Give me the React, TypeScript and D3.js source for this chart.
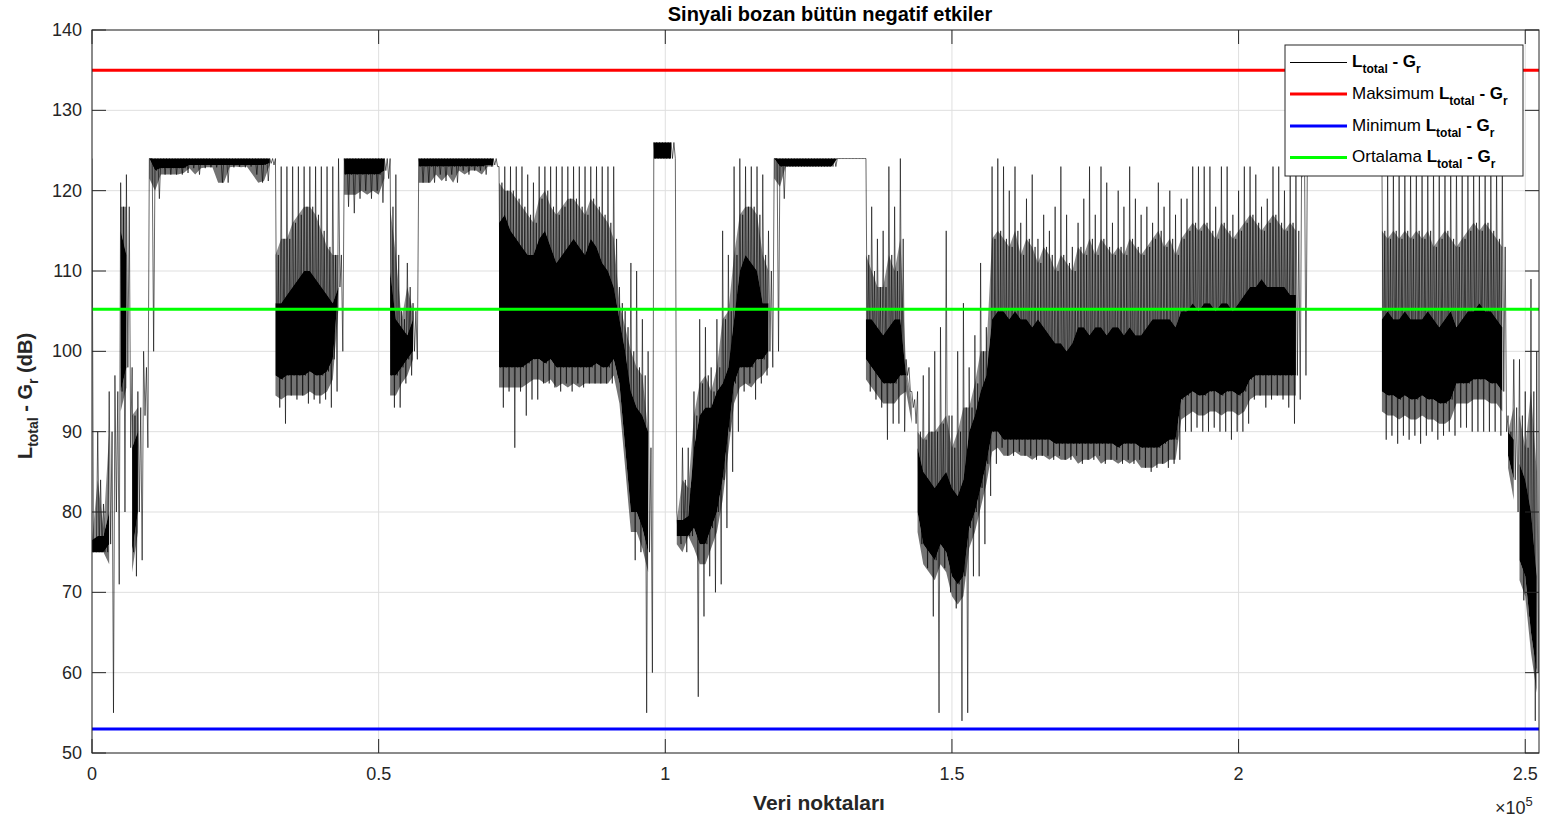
import * as d3 from "d3";

// one envelope sample every 1000 data points
const sampleStep = 1000;
const xMax = 252400;

// outer low tips of the noise
const loSpike = [
  75, 75, 75, 55, 71, 80, 88, 72, 74, 88,
  100, 119, 122, 122, 122, 122, 122.2, 122.8, 122, 122.8,
  122.9, 122.9, 121, 121, 122.9, 123, 122.9, 123, 122, 121,
  121.2, 123.2, 93, 91, 94.5, 94, 94.5, 93.5, 94, 93.5,
  94, 93, 95, 100, 118, 117.2, 119, 120, 119, 120,
  118.5, 121.5, 93, 93, 96, 97, 99, 121, 121, 121,
  122, 121.2, 122, 121, 122.5, 122, 122.5, 122.5, 122, 123,
  123, 93, 95, 88, 95, 92, 94, 94, 96, 96,
  95.5, 95, 96, 95, 96, 95.5, 96, 96, 96, 96,
  96, 97, 93, 84, 74, 75, 55, 60, 124, 124,
  124, 124, 76, 75, 77, 57, 67, 72, 70, 71,
  78, 85, 90, 95, 96, 94, 96, 97, 98, 100,
  119, 123, 123, 123, 123, 123, 123, 123, 123, 123,
  124, 124, 124, 124, 124, 95, 94, 93, 89, 91,
  91, 90, 95, 91, 76, 73, 67, 55, 73, 70,
  68, 54, 55, 72, 72, 76, 82, 86, 88, 87,
  87, 87.5, 87, 87, 86.5, 87, 87, 86.5, 87, 86.5,
  86.5, 87, 86, 86.5, 86.5, 87, 86, 86.5, 86.5, 86,
  86.5, 86, 86.5, 85.5, 85, 85.5, 86, 85.5, 86, 86.5,
  90, 90, 90.5, 90, 90, 90.5, 90, 90, 89, 90,
  90, 91, 94, 94.5, 93, 94, 94.5, 94, 93, 91,
  94, 97, 123, 123, 123, 123, 123, 123, 123, 123,
  123, 123, 123, 123, 123, 89, 89.5, 88.5, 89.5, 89,
  89.5, 88.5, 89.5, 90, 89, 89.5, 90, 89.5, 90.5, 90.5,
  90, 90, 90, 90, 90, 89.5, 90, 85.5, 80, 69,
  67, 54, 54,
];

// lower edge of the dense (solid) band
const coreLo = [
  75, 75, 75, 76, 80, 95, 98, 75, 80, 92,
  124, 122.5, 122.8, 122.8, 122.8, 122.8, 122.8, 123.2, 123.2, 123.2,
  123.2, 123.2, 123.2, 123.2, 123.2, 123.2, 123.2, 123.2, 123.2, 123.2,
  123.2, 123.4, 97, 96.5, 97, 97, 97, 97, 97.5, 97,
  97, 97.5, 99, 108, 122, 122, 122, 122, 122, 122,
  122, 122.5, 97, 97, 98, 99, 100, 123, 123, 123,
  123, 123, 123, 123, 123, 123, 123, 123, 123, 123.2,
  123.2, 98, 98, 98, 98, 98, 98.5, 99, 99, 98.5,
  99, 98, 98, 98, 98, 98, 98, 98, 98.5, 98,
  98, 99, 96, 88, 80, 80, 78, 75, 124, 124,
  124, 124, 77, 77, 77, 78, 76, 76, 78, 80,
  84, 90, 96, 98, 98, 98, 99, 99, 100, 124,
  123, 123, 123, 123, 123, 123, 123, 123, 123, 123,
  124, 124, 124, 124, 124, 99, 98, 97, 96, 96,
  96, 97, 97, 93, 80, 76, 75, 74, 76, 75,
  72, 71, 72, 78, 80, 83, 86, 90, 90, 89,
  89, 89, 89, 89, 89, 89, 89, 89, 88.5, 88.5,
  88.5, 88.5, 88.5, 88.5, 88.5, 88.5, 88.5, 88.5, 88.5, 88,
  88.5, 88.5, 88.5, 88, 88, 88, 88, 88.5, 89, 89,
  94, 94.5, 95, 94.5, 94.5, 95, 95, 94.5, 95, 95,
  94.5, 95, 96.5, 97, 97, 97, 97, 97, 97, 97,
  97, 124, 123, 123, 123, 123, 123, 123, 123, 123,
  123, 123, 123, 123, 123, 95, 94.5, 94.5, 94, 94.5,
  94, 94, 94.5, 94, 94, 93.5, 93.5, 94, 96, 96,
  96, 96.5, 96.5, 96.5, 96, 96, 95, 87, 84, 74,
  72, 65, 60,
];

// upper edge of the dense band
const coreHi = [
  76.5, 77, 77, 80, 92, 115, 112, 88, 90, 96,
  124, 124, 124, 124, 124, 124, 124, 124, 124, 124,
  124, 124, 124, 124, 124, 124, 124, 124, 124, 124,
  124, 124, 106, 106, 107, 108, 109, 110, 110, 109,
  108, 107, 106, 108, 124, 124, 124, 124, 124, 124,
  124, 124, 110, 104, 103, 102, 104, 124, 124, 124,
  124, 124, 124, 124, 124, 124, 124, 124, 124, 124,
  124, 116, 117, 115, 114, 113, 112, 112, 114, 115,
  113, 111, 112, 113, 114, 113, 112, 114, 113, 111,
  110, 108, 104, 100, 95, 93, 92, 90, 126, 126,
  126, 126, 79, 79, 79.5, 88, 92, 93, 93, 95,
  96, 98, 104, 110, 112, 111, 110, 106, 106, 124,
  124, 124, 124, 124, 124, 124, 124, 124, 124, 124,
  124, 124, 124, 124, 124, 104, 104, 103, 102, 103,
  104, 104, 97, 93, 88, 85, 84, 83, 84, 85,
  83, 82, 84, 90, 92, 95, 97, 104, 105, 105,
  104, 105, 104, 104, 103, 104, 103, 102, 101, 101,
  100, 101, 103, 103, 102, 103, 103, 102, 103, 103,
  102, 103, 102, 102, 103, 104, 104, 104, 104, 103,
  105, 105, 106, 105, 106, 106, 105, 106, 106, 105,
  106, 107, 108, 108, 109, 108, 108, 108, 108, 107,
  107, 124, 124, 124, 124, 124, 124, 124, 124, 124,
  124, 124, 124, 124, 124, 104, 105, 104, 104, 105,
  104, 104, 104, 105, 104, 103, 104, 105, 103, 104,
  105, 105, 106, 105, 105, 104, 103, 90, 89, 86,
  84, 80, 72,
];

// top of the grey haze of shorter spikes above the dense band
const midSpike = [
  76, 84, 78, 90, 95, 118, 118, 92, 93, 98,
  124, 124, 124, 124, 124, 124, 124, 124, 124, 124,
  124, 124, 124, 124, 124, 124, 124, 124, 124, 124,
  124, 124, 112, 114, 114, 116, 117, 118, 118, 117,
  115, 113, 112, 112, 124, 124, 124, 124, 124, 124,
  124, 124, 118, 112, 104, 108, 105, 124, 124, 124,
  124, 124, 124, 124, 124, 124, 124, 124, 124, 124,
  124, 121, 120, 120, 119, 118, 117, 116, 119, 120,
  118, 117, 118, 119, 119, 118, 117, 119, 118, 117,
  116, 114, 106, 103, 100, 98, 97, 88, 126, 126,
  126, 126, 79, 84, 83, 92, 96, 97, 95, 98,
  104, 105, 112, 117, 118, 118, 117, 112, 110, 124,
  124, 124, 124, 124, 124, 124, 124, 124, 124, 124,
  124, 124, 124, 124, 124, 112, 110, 108, 108, 112,
  110, 114, 98, 94, 90, 89, 90, 90, 91, 92,
  88, 90, 93, 93, 96, 100, 100, 114, 115, 114,
  113, 115, 112, 114, 113, 111, 113, 112, 110, 112,
  111, 110, 113, 112, 114, 112, 114, 113, 112, 113,
  112, 114, 113, 112, 113, 114, 115, 113, 114, 112,
  114, 115, 116, 115, 116, 115, 114, 116, 115, 114,
  115, 116, 117, 116, 115, 116, 117, 116, 115, 116,
  115, 124, 124, 124, 124, 124, 124, 124, 124, 124,
  124, 124, 124, 124, 124, 115, 114, 115, 114, 115,
  114, 115, 114, 115, 113, 114, 115, 114, 113, 114,
  115, 116, 115, 116, 115, 114, 113, 90, 93, 92,
  88, 95, 85,
];

// outer high tips of the noise
const hiSpike = [
  124, 90, 81, 95, 97, 121, 122, 98, 95, 100,
  124, 124, 124, 124, 124, 124, 124, 124, 124, 124,
  124, 124, 124, 124, 124, 124, 124, 124, 124, 124,
  124, 124, 124, 123, 123, 123, 123, 123, 123, 123,
  123, 123, 123, 124, 124, 124, 124, 124, 124, 124,
  124, 124, 124, 122, 105, 111, 106, 124, 124, 124,
  124, 124, 124, 124, 124, 124, 124, 124, 124, 124,
  124, 123, 123, 123, 123, 123, 122, 121, 123, 123,
  123, 123, 123, 123, 123, 123, 123, 123, 123, 123,
  123, 123, 108, 105, 111, 110, 104, 100, 126, 126,
  126, 126, 80, 88, 88, 95, 104, 103, 98, 104,
  115, 112, 123, 124, 123, 123, 123, 122, 115, 124,
  124, 124, 124, 124, 124, 124, 124, 124, 124, 124,
  124, 124, 124, 124, 124, 124, 118, 114, 115, 123,
  118, 124, 99, 95, 95, 97, 98, 100, 103, 115,
  92, 100, 106, 98, 102, 111, 103, 123, 124, 123,
  120, 123, 116, 119, 122, 114, 117, 115, 118, 123,
  117, 113, 116, 119, 123, 117, 123, 121, 116, 120,
  118, 123, 119, 117, 118, 116, 121, 118, 120, 117,
  119, 119, 123, 123, 123, 123, 118, 123, 123, 117,
  120, 123, 123, 122, 118, 119, 123, 123, 120, 123,
  123, 124, 124, 124, 124, 124, 124, 124, 124, 124,
  124, 124, 124, 124, 124, 124, 123, 123, 123, 123,
  123, 123, 123, 123, 123, 123, 123, 123, 123, 123,
  123, 123, 123, 123, 123, 123, 123, 92, 99, 99,
  95, 109, 100,
];

const maxValue = 135;
const minValue = 53;
const meanValue = 105.25;

const xTicks = [0, 50000, 100000, 150000, 200000, 250000];
const xTickLabels = ["0", "0.5", "1", "1.5", "2", "2.5"];
const yTicks = [50, 60, 70, 80, 90, 100, 110, 120, 130, 140];

const legendItems = [
  { prefix: "", color: "#000000", width: 1 },
  { prefix: "Maksimum ", color: "#ff0000", width: 3 },
  { prefix: "Minimum ", color: "#0000ff", width: 3 },
  { prefix: "Ortalama ", color: "#00ff00", width: 3 },
];

const W = 1547;
const H = 822;
const left = 92;
const right = 1539;
const top = 30;
const bottom = 753;
const tickLen = 14;
const ink = "#262626";
const font = "'Liberation Sans', Arial, Helvetica, sans-serif";

export default function App() {
  const x = d3.scaleLinear().domain([0, xMax]).range([left, right]);
  const y = d3.scaleLinear().domain([50, 140]).range([bottom, top]);

  // trace: tall spike, back into the band, short spike, down to the low tip
  const q = sampleStep / 4;
  const tracePts: [number, number][] = hiSpike.flatMap((h, i) => [
    [i * sampleStep, h] as [number, number],
    [i * sampleStep + q, coreLo[i]] as [number, number],
    [i * sampleStep + 2 * q, midSpike[i]] as [number, number],
    [i * sampleStep + 3 * q, loSpike[i]] as [number, number],
  ]);
  const tracePath = d3
    .line<[number, number]>()
    .x((d) => x(d[0]))
    .y((d) => y(d[1]))(tracePts);

  // dense band, split where it jumps so no wedge bridges a gap
  const segments: number[][] = [];
  let seg: number[] = [];
  coreLo.forEach((lo, i) => {
    if (
      i > 0 &&
      (Math.abs(lo - coreLo[i - 1]) > 9 || Math.abs(coreHi[i] - coreHi[i - 1]) > 9)
    ) {
      segments.push(seg);
      seg = [];
    }
    seg.push(i);
  });
  segments.push(seg);
  const coreArea = d3
    .area<number>()
    .x((i) => x(i * sampleStep))
    .y0((i) => y(coreLo[i]))
    .y1((i) => y(coreHi[i]));
  const hazeArea = d3
    .area<number>()
    .x((i) => x(i * sampleStep))
    .y0((i) => y(coreHi[i]))
    .y1((i) => y(Math.max(coreHi[i], midSpike[i])));
  const lowHazeArea = d3
    .area<number>()
    .x((i) => x(i * sampleStep))
    .y0((i) => y(Math.max(loSpike[i], coreLo[i] - 2.5)))
    .y1((i) => y(coreLo[i]));

  const refLines = [
    { v: maxValue, c: "#ff0000" },
    { v: minValue, c: "#0000ff" },
    { v: meanValue, c: "#00ff00" },
  ];

  const legX = 1285;
  const legY = 45;
  const rowY = [62.5, 94, 126, 157.5];

  return (
    <svg
      width={W}
      height={H}
      style={{ position: "absolute", left: 0, top: 0, background: "#fff" }}
      fontFamily={font}
    >
      <defs>
        <clipPath id="plotClip">
          <rect x={left} y={top} width={right - left} height={bottom - top} />
        </clipPath>
      </defs>
      <rect x={0} y={0} width={W} height={H} fill="#fff" />

      {/* grid */}
      <g stroke="#dfdfdf" strokeWidth={1}>
        {yTicks.map((t) => (
          <line key={"gy" + t} x1={left} x2={right} y1={y(t)} y2={y(t)} />
        ))}
        {xTicks.map((t) => (
          <line key={"gx" + t} x1={x(t)} x2={x(t)} y1={top} y2={bottom} />
        ))}
      </g>

      {/* signal */}
      <g clipPath="url(#plotClip)">
        {segments.map((s, k) =>
          s.length > 1 ? (
            <g key={"core" + k}>
              <path d={hazeArea(s) ?? ""} fill="#000" fillOpacity={0.45} />
              <path d={lowHazeArea(s) ?? ""} fill="#000" fillOpacity={0.55} />
              <path d={coreArea(s) ?? ""} fill="#000" />
            </g>
          ) : null
        )}
        <path
          d={tracePath ?? ""}
          fill="none"
          stroke="#000"
          strokeWidth={0.6}
          strokeLinejoin="round"
        />
        {refLines.map((r) => (
          <line
            key={r.c}
            x1={left}
            x2={right}
            y1={y(r.v)}
            y2={y(r.v)}
            stroke={r.c}
            strokeWidth={3}
          />
        ))}
      </g>

      {/* axes box and ticks */}
      <g stroke={ink} strokeWidth={1} fill="none">
        <rect x={left} y={top} width={right - left} height={bottom - top} />
        {yTicks.map((t) => (
          <g key={"ty" + t}>
            <line x1={left} x2={left + tickLen} y1={y(t)} y2={y(t)} />
            <line x1={right} x2={right - tickLen} y1={y(t)} y2={y(t)} />
          </g>
        ))}
        {xTicks.map((t) => (
          <g key={"tx" + t}>
            <line x1={x(t)} x2={x(t)} y1={bottom} y2={bottom - tickLen} />
            <line x1={x(t)} x2={x(t)} y1={top} y2={top + tickLen} />
          </g>
        ))}
      </g>

      {/* tick labels */}
      <g fill={ink} fontSize={18}>
        {yTicks.map((t) => (
          <text key={"ly" + t} x={left - 10} y={y(t)} textAnchor="end" dominantBaseline="central">
            {t}
          </text>
        ))}
        {xTicks.map((t, i) => (
          <text key={"lx" + t} x={x(t)} y={780} textAnchor="middle">
            {xTickLabels[i]}
          </text>
        ))}
        <text x={1495} y={814}>
          ×10
          <tspan fontSize={13} dy={-8}>
            5
          </tspan>
        </text>
      </g>

      {/* title and axis labels */}
      <text x={830} y={21} textAnchor="middle" fontWeight="bold" fontSize={20} fill="#000">
        Sinyali bozan bütün negatif etkiler
      </text>
      <text x={819} y={810} textAnchor="middle" fontWeight="bold" fontSize={21} fill={ink}>
        Veri noktaları
      </text>
      <text
        transform={`translate(32, 396) rotate(-90)`}
        textAnchor="middle"
        fontWeight="bold"
        fontSize={20}
        fill={ink}
      >
        L
        <tspan fontSize={14} dy={6}>
          total
        </tspan>
        <tspan dy={-6}> - G</tspan>
        <tspan fontSize={14} dy={6}>
          r
        </tspan>
        <tspan dy={-6}> (dB)</tspan>
      </text>

      {/* legend */}
      <g>
        <rect x={legX} y={legY} width={238} height={131} fill="#fff" stroke={ink} strokeWidth={1} />
        {legendItems.map((it, i) => (
          <g key={"leg" + i}>
            <line x1={1290} x2={1347} y1={rowY[i]} y2={rowY[i]} stroke={it.color} strokeWidth={it.width} />
            <text x={1352} y={rowY[i] + 4.5} fontSize={17} fill="#000">
              {it.prefix}
              <tspan fontWeight="bold">L</tspan>
              <tspan fontWeight="bold" fontSize={12} dy={6}>
                total
              </tspan>
              <tspan fontWeight="bold" dy={-6}>
                {" "}- G
              </tspan>
              <tspan fontWeight="bold" fontSize={12} dy={6}>
                r
              </tspan>
            </text>
          </g>
        ))}
      </g>
    </svg>
  );
}
